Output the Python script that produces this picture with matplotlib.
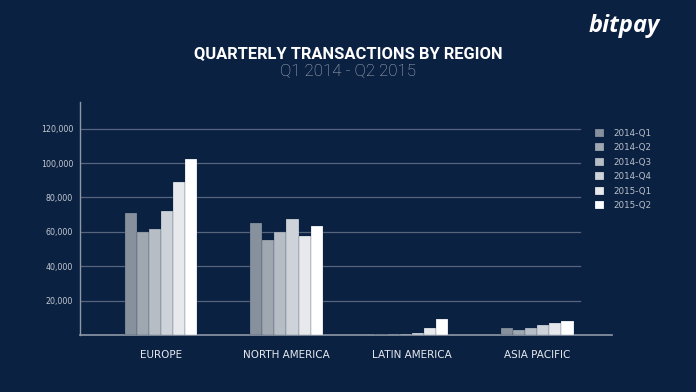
import numpy as np
import matplotlib
matplotlib.use("Agg")
from matplotlib import pyplot as plt

regions = ["EUROPE", "NORTH AMERICA", "LATIN AMERICA", "ASIA PACIFIC"]
quarters = ["2014-Q1", "2014-Q2", "2014-Q3", "2014-Q4", "2015-Q1", "2015-Q2"]

# transactions per region, one list per quarter
q1_2014 = [71000, 65000, 400, 3900]
q2_2014 = [60000, 55000, 400, 3100]
q3_2014 = [61500, 60000, 600, 4100]
q4_2014 = [72000, 67600, 1000, 6000]
q1_2015 = [88800, 57700, 3900, 6800]
q2_2015 = [102100, 63500, 9100, 8000]
series = [q1_2014, q2_2014, q3_2014, q4_2014, q1_2015, q2_2015]

y_ticks = [20000, 40000, 60000, 80000, 100000, 120000]

bg = "#0b2142"
bar_colors = ["#87919d", "#9fa7b1", "#b6bdc5", "#ced3d9", "#e7e9ec", "#ffffff"]
grid_color = "#56657c"
text_color = "#c3c9d1"

fig = plt.figure(figsize=(6.96, 3.92), dpi=100, facecolor=bg)
ax = fig.add_axes([80 / 696, 1 - 335 / 392, (612 - 80) / 696, (335 - 102) / 392])
ax.set_facecolor(bg)

x = np.arange(len(regions))
width = 0.097
for i, (vals, col) in enumerate(zip(series, bar_colors)):
    ax.bar(x + (i - 2.5) * width, vals, width=width, color=col, label=quarters[i],
           edgecolor=bg, linewidth=0.15, zorder=3)

# grid stops short of the bottom axis line
for t in y_ticks:
    ax.axhline(t, xmin=0, xmax=(580 - 80) / (612 - 80), color=grid_color, linewidth=0.9, zorder=1)

ax.set_xlim(-0.646, 3.597)
ax.set_ylim(0, 135500)
ax.set_yticks(y_ticks)
ax.set_yticklabels([f"{t:,}" for t in y_ticks])
ax.set_xticks(x)
ax.set_xticklabels(regions)
ax.tick_params(axis="y", length=0, pad=5, labelsize=5.7, labelcolor=text_color)
ax.tick_params(axis="x", length=0, pad=11, labelsize=7.5, labelcolor="#e6e9ee")

for s in ["top", "right"]:
    ax.spines[s].set_visible(False)
ax.spines["left"].set_color("#8e99a8")
ax.spines["bottom"].set_color("#8e99a8")
ax.spines["left"].set_linewidth(1)
ax.spines["bottom"].set_linewidth(1.2)

leg = ax.legend(loc="upper left", bbox_to_anchor=(587 / 696, 1 - 121 / 392),
                bbox_transform=fig.transFigure, frameon=False, fontsize=6.3,
                handlelength=1.05, handleheight=1.05, handletextpad=1.1,
                labelspacing=0.62, labelcolor="#b9c0c9")

fig.text(0.5, 1 - 54 / 392, "QUARTERLY TRANSACTIONS BY REGION", color="white",
         fontsize=11.9, fontweight="bold", ha="center", va="center", family="Roboto")
fig.text(0.5, 1 - 71 / 392, "Q1 2014 - Q2 2015", color="#aeb6c0",
         fontsize=12.2, fontweight="light", ha="center", va="center", family="Roboto")
fig.text(624 / 696, 1 - 26 / 392, "bitpay", color="white", fontsize=17,
         fontweight="bold", fontstyle="italic", ha="center", va="center", family="Open Sans")

fig.savefig("out.png", dpi=100, facecolor=bg)
